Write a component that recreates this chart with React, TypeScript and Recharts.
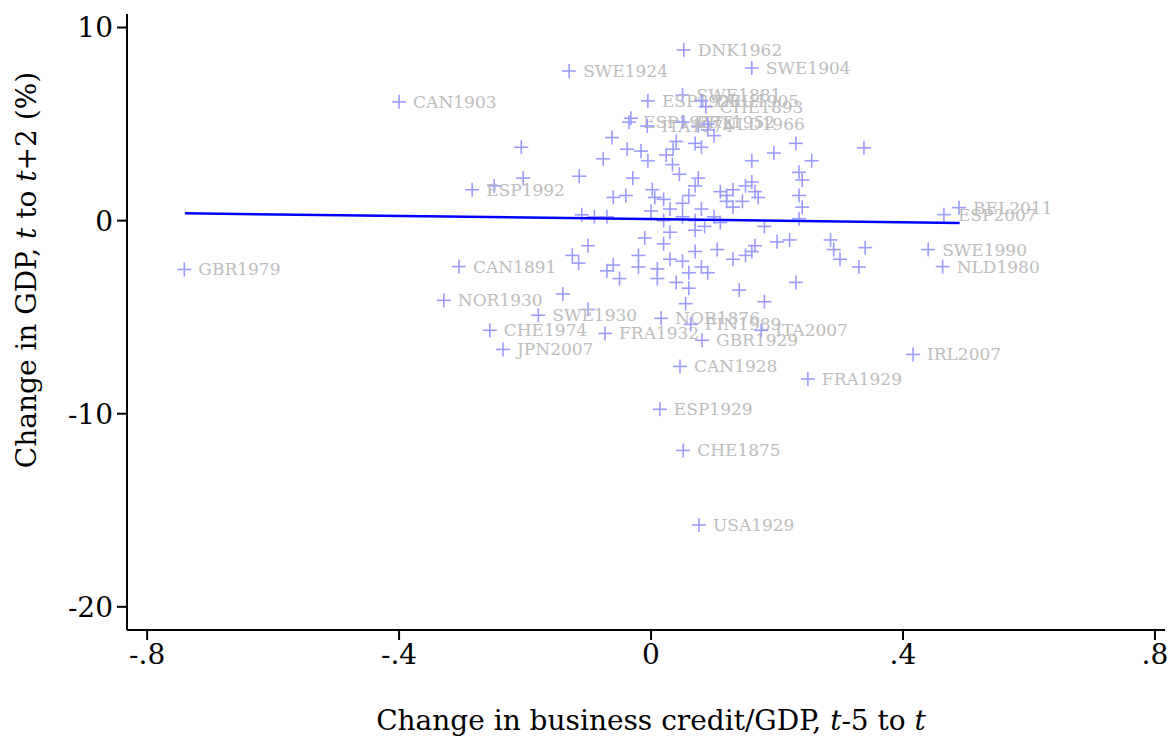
import { Scatter, ScatterChart, XAxis, YAxis } from "recharts";

const labeled: { x: number; y: number; name: string }[] = [
  { x: -0.741, y: -2.53, name: "GBR1979" },
  { x: -0.4, y: 6.15, name: "CAN1903" },
  { x: -0.13, y: 7.75, name: "SWE1924" },
  { x: 0.052, y: 8.84, name: "DNK1962" },
  { x: 0.16, y: 7.9, name: "SWE1904" },
  { x: 0.05, y: 6.5, name: "SWE1881" },
  { x: -0.005, y: 6.2, name: "ESP1920" },
  { x: 0.08, y: 6.2, name: "DEU1905" },
  { x: 0.087, y: 5.9, name: "CHE1893" },
  { x: -0.035, y: 5.1, name: "ESP1957" },
  { x: -0.006, y: 4.9, name: "ITA1974" },
  { x: 0.05, y: 5.1, name: "PRT1952" },
  { x: 0.09, y: 5.0, name: "NLD1966" },
  { x: -0.284, y: 1.6, name: "ESP1992" },
  { x: 0.489, y: 0.67, name: "BEL2011" },
  { x: 0.465, y: 0.31, name: "ESP2007" },
  { x: 0.44, y: -1.5, name: "SWE1990" },
  { x: 0.463, y: -2.38, name: "NLD1980" },
  { x: -0.305, y: -2.38, name: "CAN1891" },
  { x: -0.329, y: -4.13, name: "NOR1930" },
  { x: -0.179, y: -4.9, name: "SWE1930" },
  { x: -0.256, y: -5.68, name: "CHE1974" },
  { x: -0.073, y: -5.84, name: "FRA1932" },
  { x: -0.235, y: -6.67, name: "JPN2007" },
  { x: 0.016, y: -5.06, name: "NOR1876" },
  { x: 0.063, y: -5.37, name: "FIN1989" },
  { x: 0.081, y: -6.2, name: "GBR1929" },
  { x: 0.175, y: -5.68, name: "ITA2007" },
  { x: 0.046, y: -7.55, name: "CAN1928" },
  { x: 0.249, y: -8.2, name: "FRA1929" },
  { x: 0.416, y: -6.93, name: "IRL2007" },
  { x: 0.014, y: -9.77, name: "ESP1929" },
  { x: 0.051, y: -11.9, name: "CHE1875" },
  { x: 0.076, y: -15.76, name: "USA1929" },
];

const unlabeled: [number, number][] = [
  [-0.206, 3.8], [-0.203, 2.2], [-0.249, 1.8], [-0.114, 2.3], [-0.062, 4.3], [-0.076, 3.2],
  [-0.06, 1.2], [-0.032, 5.3], [-0.038, 3.7], [-0.016, 3.6], [-0.005, 3.1], [-0.029, 2.2],
  [0.002, 1.6], [0.006, 1.2], [0.0, 0.5], [0.024, 3.4], [0.035, 3.7], [0.04, 4.1],
  [0.034, 2.9], [0.045, 2.4], [0.07, 4.0], [0.08, 3.8], [0.075, 4.9], [0.09, 4.7],
  [0.1, 4.4], [0.07, 1.8], [0.075, 2.2], [0.11, 1.5], [0.12, 1.3], [0.13, 1.6],
  [0.15, 1.8], [0.16, 3.1], [0.195, 3.5], [0.23, 4.0], [0.235, 2.5], [0.24, 2.1],
  [0.255, 3.1], [0.235, 1.3], [0.24, 0.7], [0.235, 0.1], [0.16, 2.0], [0.165, 1.5],
  [0.17, 1.2], [0.145, 1.0], [0.13, 0.7], [0.06, 1.3], [0.05, 0.9], [0.03, 0.6],
  [0.08, 0.6], [0.07, 0.0], [0.085, -0.3], [0.02, 0.0], [0.02, 1.1], [-0.04, 1.3],
  [-0.11, 0.3], [-0.07, 0.2], [-0.09, 0.2], [0.05, 0.2], [0.1, 0.2], [0.12, 1.0],
  [0.11, -0.1], [0.03, -0.6], [0.07, -0.5], [0.18, -0.3], [0.338, 3.77],
  [-0.1, -1.3], [-0.125, -1.8], [-0.115, -2.2], [-0.06, -2.3], [-0.07, -2.6], [-0.05, -3.0],
  [-0.02, -1.8], [-0.02, -2.4], [0.01, -2.5], [0.01, -3.0], [0.03, -2.0], [0.05, -2.1],
  [0.06, -2.7], [0.07, -1.6], [0.08, -2.4], [0.09, -2.7], [0.105, -1.5], [0.13, -2.0],
  [0.15, -1.8], [0.16, -1.6], [0.165, -1.3], [0.2, -1.1], [0.22, -1.0], [0.23, -3.2],
  [0.285, -1.0], [0.29, -1.5], [0.3, -2.0], [0.33, -2.4], [0.34, -1.4], [0.04, -3.2],
  [0.055, -4.3], [0.14, -3.6], [0.18, -4.2], [-0.14, -3.8], [-0.1, -4.6], [0.06, -3.5],
  [0.02, -1.2], [-0.01, -0.9],
];

const fitLine = [
  { x: -0.74, y: 0.38 },
  { x: 0.49, y: -0.12 },
];

const xTicks = [-0.8, -0.4, 0, 0.4, 0.8];
const yTicks = [-20, -10, 0, 10];

const unlabeledPts = unlabeled.map(([x, y]) => ({ x, y, name: "" }));

const SERIF = "'DejaVu Serif', serif";
const MARK = "#9b9bff";

function Plus(props: any) {
  const { cx, cy, payload } = props;
  const s = 7;
  return (
    <g>
      <line x1={cx - s} x2={cx + s} y1={cy} y2={cy} stroke={MARK} strokeWidth={1.6} />
      <line x1={cx} x2={cx} y1={cy - s} y2={cy + s} stroke={MARK} strokeWidth={1.6} />
      {payload.name && (
        <text x={cx + 14} y={cy + 6} fill="#bdbdbd" fontSize={17} fontFamily={SERIF}>
          {payload.name}
        </text>
      )}
    </g>
  );
}

function fmtX(v: number) {
  if (v === 0) return "0";
  return (v < 0 ? "-" : "") + String(Math.abs(v)).replace(/^0/, "");
}

export default function App() {
  return (
    <div style={{ position: "absolute", left: 0, top: 0 }}>
      <ScatterChart width={1167} height={742} margin={{ top: 14, right: 2, bottom: 0, left: 0 }}>
        <XAxis
          type="number"
          dataKey="x"
          domain={[-0.832, 0.816]}
          ticks={xTicks}
          tickFormatter={fmtX}
          allowDataOverflow
          height={112}
          tick={{ fill: "#000", fontSize: 28, fontFamily: SERIF }}
          tickSize={10}
          tickMargin={4}
          axisLine={{ stroke: "#000", strokeWidth: 2 }}
          tickLine={{ stroke: "#000", strokeWidth: 2 }}
          label={() => (
            <text x={651} y={730} textAnchor="middle" fontSize={28} fontFamily={SERIF} fill="#000">
              Change in business credit/GDP, <tspan fontStyle="italic">t</tspan>-5 to{" "}
              <tspan fontStyle="italic">t</tspan>
            </text>
          )}
        />
        <YAxis
          type="number"
          dataKey="y"
          domain={[-21.2, 10.7]}
          ticks={yTicks}
          allowDataOverflow
          width={127}
          tick={{ fill: "#000", fontSize: 28, fontFamily: SERIF }}
          tickSize={10}
          tickMargin={4}
          axisLine={{ stroke: "#000", strokeWidth: 2 }}
          tickLine={{ stroke: "#000", strokeWidth: 2 }}
          label={() => (
            <text
              x={36}
              y={270}
              transform="rotate(-90 36 270)"
              textAnchor="middle"
              fontSize={28}
              fontFamily={SERIF}
              fill="#000"
            >
              Change in GDP, <tspan fontStyle="italic">t</tspan> to <tspan fontStyle="italic">t</tspan>+2 (%)
            </text>
          )}
        />
        <Scatter data={unlabeledPts} shape={Plus} isAnimationActive={false} />
        <Scatter data={labeled} shape={Plus} isAnimationActive={false} />
        <Scatter
          data={fitLine}
          line={{ stroke: "#0000ff", strokeWidth: 2.5 }}
          shape={() => <g />}
          isAnimationActive={false}
        />
      </ScatterChart>
    </div>
  );
}
